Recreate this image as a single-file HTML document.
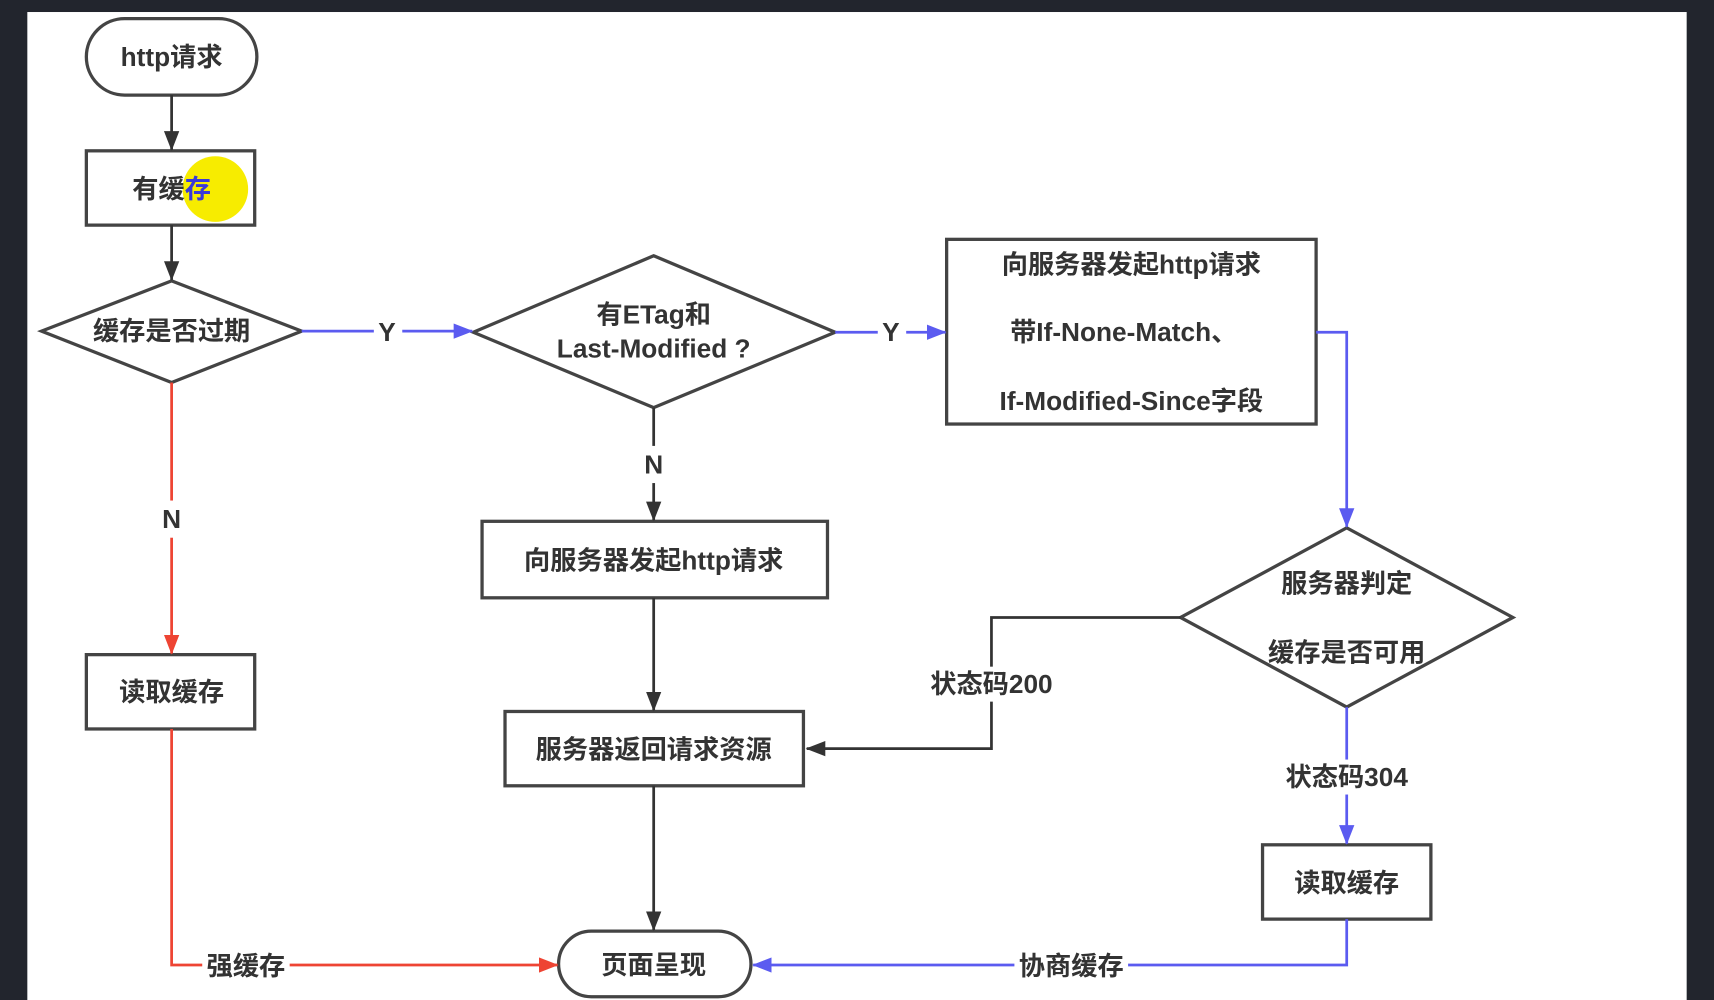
<!DOCTYPE html>
<html><head><meta charset="utf-8"><style>
html,body{margin:0;padding:0;background:#22252d;}
svg{display:block}
text{font-family:"Liberation Sans","Noto Sans CJK SC",sans-serif;font-weight:bold;fill:#333;font-size:24px;text-anchor:middle;dominant-baseline:central}
</style></head><body>
<svg width="1714" height="1000" viewBox="0 0 1568 915" preserveAspectRatio="none" xmlns="http://www.w3.org/2000/svg">
<defs>
<marker id="ak" markerWidth="18" markerHeight="14" refX="17" refY="7" orient="auto" markerUnits="userSpaceOnUse" viewBox="0 0 18 14"><path d="M0,0 L18,7 L0,14z" fill="#333"/></marker>
<marker id="ab" markerWidth="18" markerHeight="14" refX="17" refY="7" orient="auto" markerUnits="userSpaceOnUse" viewBox="0 0 18 14"><path d="M0,0 L18,7 L0,14z" fill="#5b5bf0"/></marker>
<marker id="ar" markerWidth="18" markerHeight="14" refX="17" refY="7" orient="auto" markerUnits="userSpaceOnUse" viewBox="0 0 18 14"><path d="M0,0 L18,7 L0,14z" fill="#ee4433"/></marker>
</defs>
<rect x="25" y="11" width="1518" height="904" fill="#fff"/>
<g fill="#fff" stroke="#444" stroke-width="3">
<rect x="79" y="17" width="156" height="70" rx="35"/>
<rect x="79" y="138" width="154" height="68"/>
<polygon points="38,303 157,257 276,303 157,350"/>
<polygon points="433,304 598,234 764,304 598,373"/>
<rect x="866" y="219" width="338" height="169"/>
<polygon points="1080,565 1232,483 1384,565 1232,647"/>
<rect x="1155" y="773" width="154" height="68"/>
<rect x="79" y="599" width="154" height="68"/>
<rect x="441" y="477" width="316" height="70"/>
<rect x="462" y="651" width="273" height="68"/>
<rect x="511" y="852" width="176" height="60" rx="30"/>
</g>
<circle cx="197" cy="173" r="30" fill="#f7ec00"/>
<g fill="none" stroke-width="2.5">
<path d="M157,87 V137" stroke="#333" marker-end="url(#ak)"/>
<path d="M157,206 V256" stroke="#333" marker-end="url(#ak)"/>
<path d="M276,303 H432" stroke="#5b5bf0" marker-end="url(#ab)"/>
<path d="M764,304 H865" stroke="#5b5bf0" marker-end="url(#ab)"/>
<path d="M1204,304 H1232 V482" stroke="#5b5bf0" marker-end="url(#ab)"/>
<path d="M1080,565 H907 V685 H738" stroke="#333" marker-end="url(#ak)"/>
<path d="M1232,647 V772" stroke="#5b5bf0" marker-end="url(#ab)"/>
<path d="M1232,841 V883 H689" stroke="#5b5bf0" marker-end="url(#ab)"/>
<path d="M157,350 V598" stroke="#ee4433" marker-end="url(#ar)"/>
<path d="M157,667 V883 H510" stroke="#ee4433" marker-end="url(#ar)"/>
<path d="M598,373 V476" stroke="#333" marker-end="url(#ak)"/>
<path d="M598,547 V650" stroke="#333" marker-end="url(#ak)"/>
<path d="M598,719 V851" stroke="#333" marker-end="url(#ak)"/>
</g>
<g fill="#fff">
<rect x="342" y="290" width="26" height="28"/>
<rect x="803" y="290" width="26" height="28"/>
<rect x="142" y="458" width="30" height="34"/>
<rect x="583" y="408" width="30" height="34"/>
<rect x="845" y="610" width="125" height="32"/>
<rect x="1168" y="695" width="128" height="32"/>
<rect x="185" y="868" width="80" height="30"/>
<rect x="928" y="868" width="104" height="30"/>
</g>
<text x="157" y="52">http请求</text>
<text x="157" y="173">有缓<tspan fill="#3a3ad8">存</tspan></text>
<text x="157" y="303">缓存是否过期</text>
<text x="354" y="304">Y</text>
<text x="598" y="288">有ETag和</text>
<text x="598" y="319">Last-Modified ?</text>
<text x="815" y="304">Y</text>
<text x="1035" y="242">向服务器发起http请求</text>
<text x="1028" y="304">带If-None-Match、</text>
<text x="1035" y="367">If-Modified-Since字段</text>
<text x="1232" y="534">服务器判定</text>
<text x="1232" y="597">缓存是否可用</text>
<text x="907" y="626">状态码200</text>
<text x="1232" y="711">状态码304</text>
<text x="1232" y="808">读取缓存</text>
<text x="980" y="884">协商缓存</text>
<text x="157" y="475">N</text>
<text x="157" y="633">读取缓存</text>
<text x="225" y="884">强缓存</text>
<text x="598" y="425">N</text>
<text x="598" y="513">向服务器发起http请求</text>
<text x="598" y="686">服务器返回请求资源</text>
<text x="598" y="883">页面呈现</text>
</svg>
</body></html>
